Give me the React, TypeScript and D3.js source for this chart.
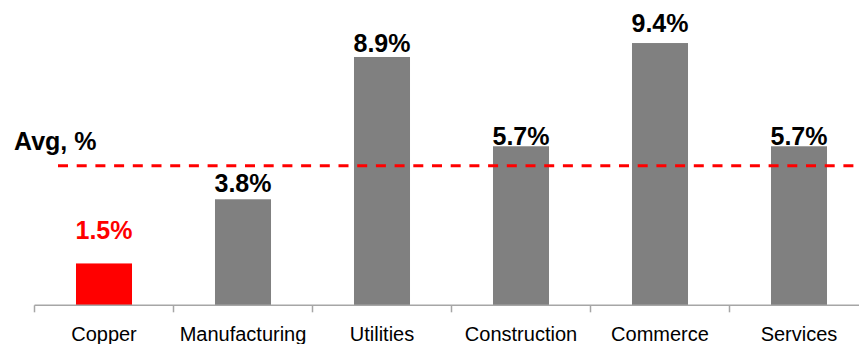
import React from "react";
import * as d3 from "d3";

const categories = ["Copper", "Manufacturing", "Utilities", "Construction", "Commerce", "Services"];
const values = [1.5, 3.8, 8.9, 5.7, 9.4, 5.7];
const valueLabels = ["1.5%", "3.8%", "8.9%", "5.7%", "9.4%", "5.7%"];
const averageValue = 5.0;
const averageLabel = "Avg, %";

// style: label gap above bar (px)
const labelGaps = [24, 7, 5, 1, 11, 1];
const highlight = "Copper";

const W = 859;
const H = 344;

export default function App() {
  const x = d3
    .scaleBand<string>()
    .domain(categories)
    .range([34.5, 868.5])
    .paddingInner(0.597)
    .paddingOuter(0.2985);
  const y = d3.scaleLinear().domain([0, 10]).range([305.3, 26.3]);
  const bw = x.bandwidth();
  const step = x.step();
  const tickXs = categories.map((c) => (x(c) as number) + bw / 2 - step / 2);
  tickXs.push(tickXs[tickXs.length - 1] + step);
  const base = y(0);

  return (
    <svg
      width={W}
      height={H}
      style={{ position: "absolute", left: 0, top: 0, background: "#fff" }}
    >
      {categories.map((c, i) => {
        const isHi = c === highlight;
        return (
          <g key={c}>
            <rect
              x={x(c)}
              y={y(values[i])}
              width={bw}
              height={base - y(values[i])}
              fill={isHi ? "#ff0000" : "#808080"}
            />
            <text
              x={(x(c) as number) + bw / 2}
              y={y(values[i]) - labelGaps[i]}
              textAnchor="middle"
              fontFamily="'Liberation Sans', Arial, sans-serif"
              fontWeight="bold"
              fontSize={25}
              fill={isHi ? "#ff0000" : "#000"}
            >
              {valueLabels[i]}
            </text>
            <text
              x={(x(c) as number) + bw / 2}
              y={341}
              textAnchor="middle"
              fontFamily="'Liberation Sans', Arial, sans-serif"
              fontSize={20}
              fill="#000"
            >
              {c}
            </text>
          </g>
        );
      })}
      <line x1={34.5} x2={W} y1={base} y2={base} stroke="#a6a6a6" strokeWidth={1.5} />
      {tickXs.map((t, i) => (
        <line key={i} x1={t} x2={t} y1={base} y2={base + 7} stroke="#a6a6a6" strokeWidth={1.5} />
      ))}
      <line
        x1={58}
        x2={855}
        y1={y(averageValue)}
        y2={y(averageValue)}
        stroke="#ff0000"
        strokeWidth={3}
        strokeDasharray="10,8.7"
      />
      <text
        x={14}
        y={150}
        fontFamily="'Liberation Sans', Arial, sans-serif"
        fontWeight="bold"
        fontSize={25}
        fill="#000"
      >
        {averageLabel}
      </text>
    </svg>
  );
}
